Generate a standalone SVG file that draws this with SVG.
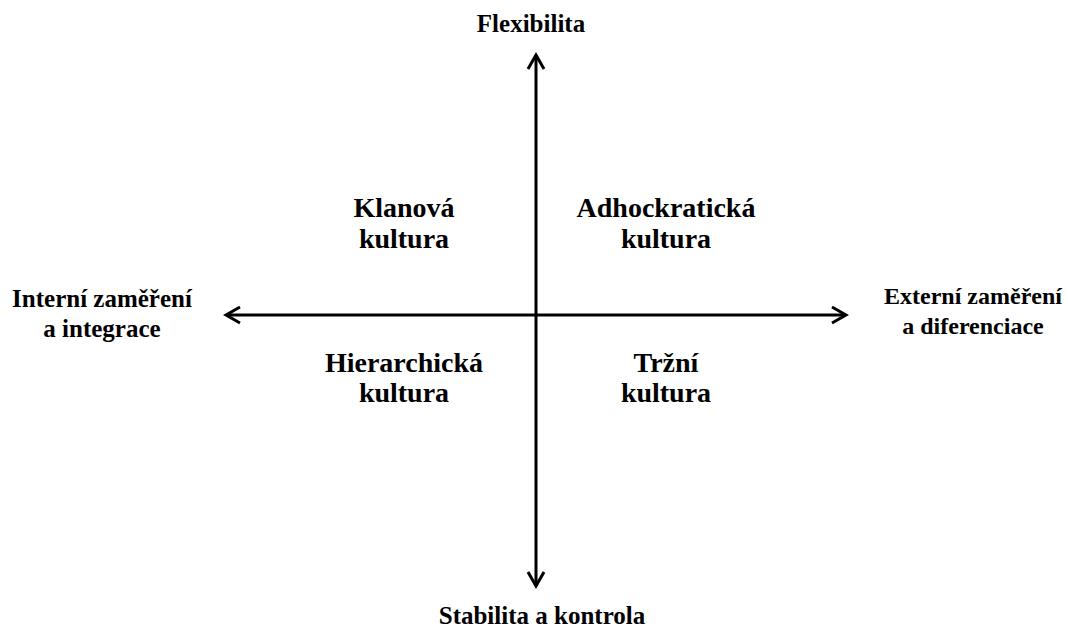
<svg xmlns="http://www.w3.org/2000/svg" width="1068" height="629" viewBox="0 0 1068 629">
<style>
text{font-family:"Liberation Serif","Times New Roman",serif;font-weight:bold;font-size:25px;fill:#000;text-anchor:middle}
.q{font-size:28px}
.e{font-size:24px}
.ax{stroke:#000;stroke-width:3;fill:none}
</style>
<defs>
<marker id="ah" viewBox="0 0 20 20" refX="17" refY="10" markerWidth="20" markerHeight="20" markerUnits="userSpaceOnUse" orient="auto-start-reverse">
<path d="M3,2 L17,10 L3,18" fill="none" stroke="#000" stroke-width="3"/>
</marker>
</defs>
<rect width="1068" height="629" fill="#fff"/>
<g id="connectors">
<line class="ax" x1="536" y1="55" x2="536" y2="586" marker-start="url(#ah)" marker-end="url(#ah)"/>
<line class="ax" x1="226" y1="315" x2="846" y2="315" marker-start="url(#ah)" marker-end="url(#ah)"/>
</g>
<g id="flex"><text x="531" y="32">Flexibilita</text></g>
<g id="stab"><text x="542" y="624">Stabilita a kontrola</text></g>
<g id="intern"><text x="102" y="307">Interní  zaměření</text><text x="102" y="337">a integrace</text></g>
<g id="extern"><text class="e" x="973" y="304">Externí zaměření</text><text class="e" x="973" y="334">a diferenciace</text></g>
<g id="klan"><text class="q" x="404" y="217">Klanová</text><text class="q" x="404" y="248">kultura</text></g>
<g id="adhoc"><text class="q" x="666" y="217">Adhockratická</text><text class="q" x="666" y="248">kultura</text></g>
<g id="hier"><text class="q" x="404" y="372">Hierarchická</text><text class="q" x="404" y="402">kultura</text></g>
<g id="trzni"><text class="q" x="666" y="372">Tržní</text><text class="q" x="666" y="402">kultura</text></g>
</svg>
